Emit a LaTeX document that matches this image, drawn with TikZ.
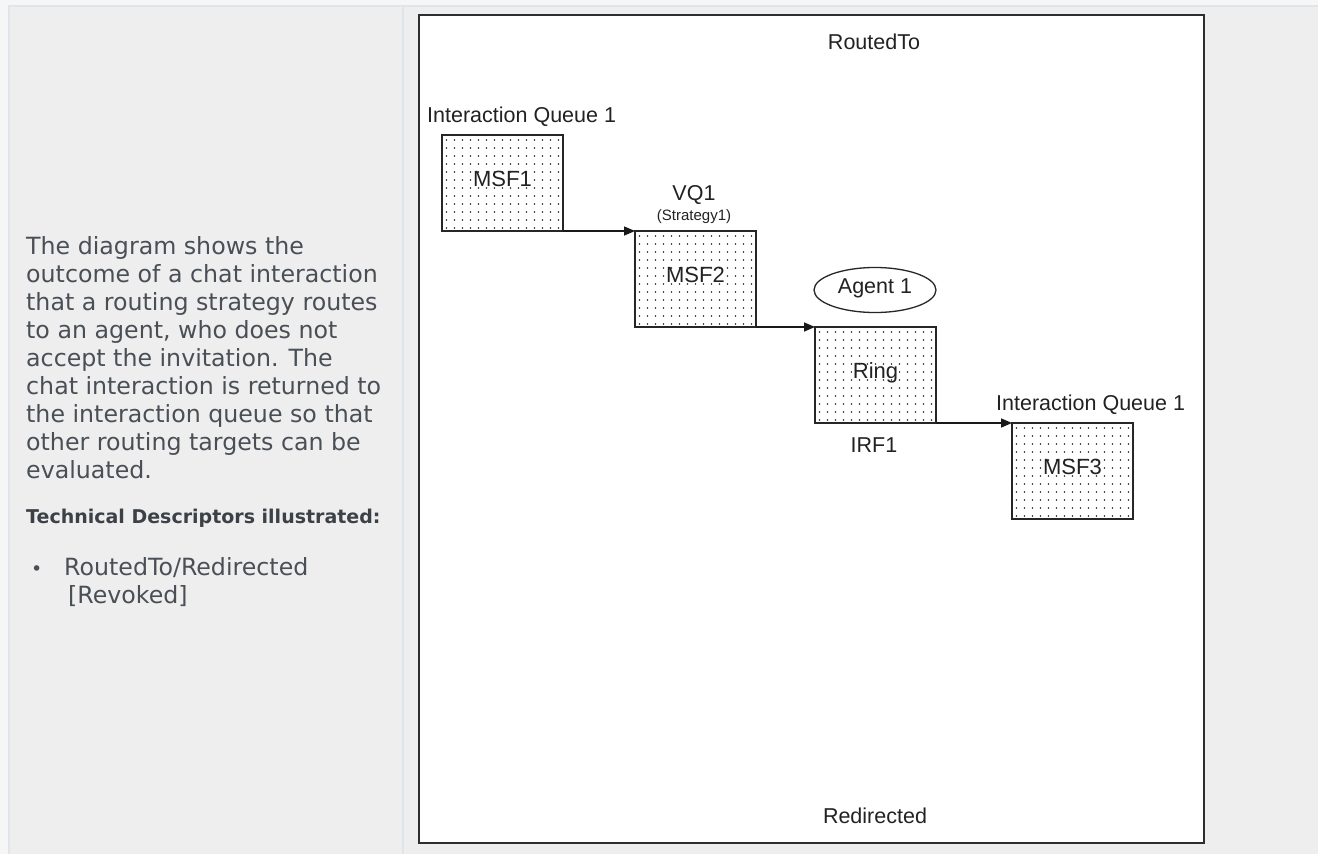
\documentclass[tikz,border=0pt]{standalone}
\usepackage{fontspec}
\setmainfont{DejaVu Sans}
\newfontfamily\arialf{Liberation Sans}
\usetikzlibrary{arrows.meta,calc,shapes.geometric}
\definecolor{pagebg}{HTML}{F6F6F7}
\definecolor{cellbg}{HTML}{EEEEEE}
\definecolor{cellline}{HTML}{E0E5EB}
\definecolor{bodytxt}{HTML}{4A4F56}
\definecolor{headtxt}{HTML}{3C4148}
\definecolor{inktxt}{HTML}{222222}
\begin{document}
\begin{tikzpicture}[x=1pt,y=-1pt,
  bodyline/.style={anchor=base west, inner sep=0, text=bodytxt, font=\fontsize{23.7}{28}\selectfont},
  headline/.style={anchor=base west, inner sep=0, text=headtxt, font=\bfseries\fontsize{19}{24}\selectfont},
  dlabel/.style={inner sep=0, text=inktxt, font=\arialf\fontsize{21.5}{26}\selectfont},
  smalllabel/.style={inner sep=0, text=inktxt, font=\arialf\fontsize{15}{18}\selectfont},
  dotbox/.style={draw=black!85, line width=1.9pt, minimum width=121pt, minimum height=96pt, inner sep=0, outer sep=0pt, anchor=north west},
  boxlabel/.style={inner sep=0.6pt, fill=white, text=inktxt, font=\arialf\fontsize{22}{26}\selectfont, text height=0.72em, text depth=0pt},
  flow/.style={draw=black!90, line width=1.5pt, -{Triangle[length=11pt,width=9pt]}},
]
\useasboundingbox (0,0) rectangle (1318,854);
% page and cells
\fill[pagebg] (0,0) rectangle (1318,854);
\fill[cellbg] (9,6) rectangle (1318,854);
\draw[cellline, line width=2pt] (9,854) -- (9,6) -- (1318,6);
\draw[cellline, line width=2pt] (403,6) -- (403,854);

% left text
\node[bodyline] (l1) at (26,254) {The diagram shows the};
\node[bodyline] (l2) at (26,282) {outcome of a chat interaction};
\node[bodyline] (l3) at (26,310) {that a routing strategy routes};
\node[bodyline] (l4) at (26,338) {to an agent, who does not};
\node[bodyline] (l5) at (26,366) {accept the invitation. The};
\node[bodyline] (l6) at (26,394) {chat interaction is returned to};
\node[bodyline] (l7) at (26,422) {the interaction queue so that};
\node[bodyline] (l8) at (26,450) {other routing targets can be};
\node[bodyline] (l9) at (26,478) {evaluated.};
\node[headline] (head) at (26,523) {Technical Descriptors illustrated:};
\node[bodyline, font=\fontsize{19}{24}\selectfont] (bul) at (31,575) {•};
\node[bodyline] (item1) at (64,575) {RoutedTo/Redirected};
\node[bodyline] (item2) at (68,603) {[Revoked]};

% diagram frame
\draw[black!82, line width=2.6pt, fill=white] (419,15) rectangle (1204,843);

\node[dlabel, anchor=base] (routed) at (874,49) {RoutedTo};
\node[dlabel, anchor=base] (redir) at (875,823) {Redirected};

% boxes
\node[dotbox] (msf1) at (442,135) {};
\node[dotbox] (msf2) at (635,231) {};
\node[dotbox] (ring) at (815,327) {};
\node[dotbox] (msf3) at (1012,423) {};
\foreach \b in {msf1,msf2,ring,msf3}{
  \foreach \i in {0,...,14}{
    \foreach \j in {0,...,11}{
      \fill[black!85] ($(\b.north west)+(4.5+8*\i,5+8*\j)$) circle (0.95pt);
    }
  }
}
\node[boxlabel] (msf1t) at (msf1.center) {MSF1};
\node[boxlabel] (msf2t) at (msf2.center) {MSF2};
\node[boxlabel] (ringt) at (ring.center) {Ring};
\node[boxlabel] (msf3t) at (msf3.center) {MSF3};

% labels
\node[dlabel, anchor=base west] (iq1) at (427,122) {Interaction Queue 1};
\node[dlabel, anchor=base] (vq1) at (694,200) {VQ1};
\node[smalllabel, anchor=base] (strat) at (694,220) {(Strategy1)};
\node[ellipse, draw=black!85, line width=1.3pt, minimum width=122pt, minimum height=45pt, inner sep=0, text=inktxt, font=\arialf\fontsize{21.5}{26}\selectfont, text height=0.72em, text depth=0pt] (agent) at (875,290) {Agent 1};
\node[dlabel, anchor=base] (irf1) at (874,452) {IRF1};
\node[dlabel, anchor=base west] (iq2) at (996,410.5) {Interaction Queue 1};

% connectors
\draw[flow] (msf1.south east) -- (msf2.north west);
\draw[flow] (msf2.south east) -- (ring.north west);
\draw[flow] (ring.south east) -- (msf3.north west);
\end{tikzpicture}
\end{document}
